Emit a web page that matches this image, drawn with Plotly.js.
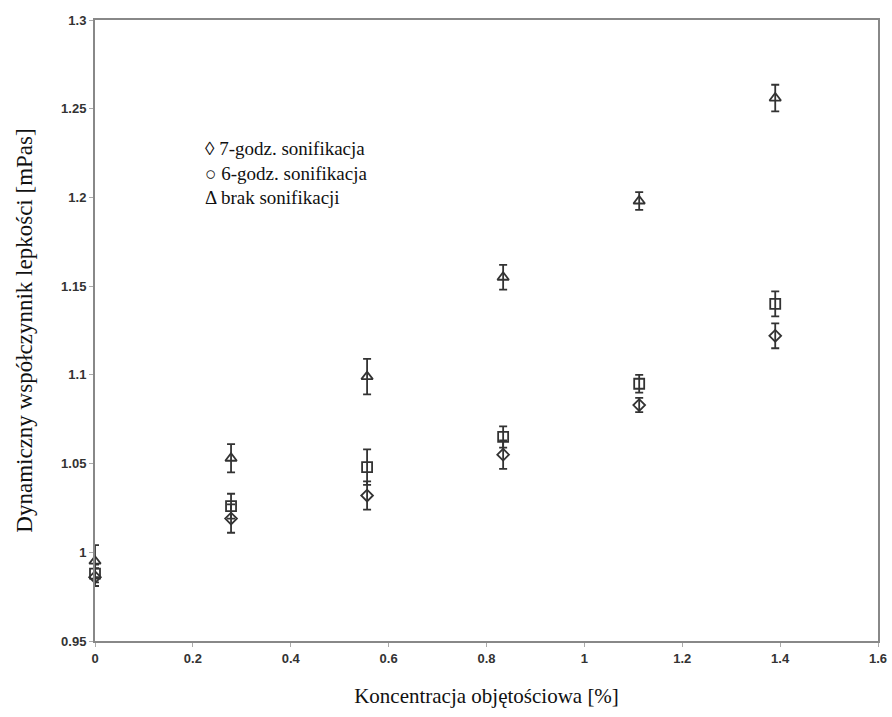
<!DOCTYPE html>
<html><head><meta charset="utf-8">
<script src="https://cdn.plot.ly/plotly-3.0.1.min.js"></script>
<style>html,body{margin:0;padding:0;background:#fff}</style>
</head><body>
<div id="chart" style="width:892px;height:717px"></div>
<script>
const conc = [0, 0.278, 0.556, 0.834, 1.112, 1.39];
const brakVals = [0.995, 1.053, 1.099, 1.155, 1.198, 1.256];
const brakErr = [0.009, 0.008, 0.010, 0.007, 0.005, 0.0075];
const godz6Vals = [0.988, 1.026, 1.048, 1.065, 1.095, 1.140];
const godz6Err = [0.005, 0.007, 0.010, 0.006, 0.005, 0.007];
const godz7Vals = [0.986, 1.019, 1.032, 1.055, 1.083, 1.122];
const godz7Err = [0.005, 0.008, 0.008, 0.008, 0.004, 0.007];
const xTickVals = [0, 0.2, 0.4, 0.6, 0.8, 1, 1.2, 1.4, 1.6];
const xTickText = ['0', '0.2', '0.4', '0.6', '0.8', '1', '1.2', '1.4', '1.6'];
const yTickVals = [0.95, 1, 1.05, 1.1, 1.15, 1.2, 1.25, 1.3];
const yTickText = ['0.95', '1', '1.05', '1.1', '1.15', '1.2', '1.25', '1.3'];
const legendLines = ['◊ 7-godz. sonifikacja', '○ 6-godz. sonifikacja', 'Δ brak sonifikacji'];

const serif = '"Liberation Serif", "Times New Roman", serif';
const sans = '"Liberation Sans Narrow", "Liberation Sans", Arial, sans-serif';

function series(name, y, err, symbol, size) {
  return {
    x: conc, y: y, name: name, type: 'scatter', mode: 'markers', cliponaxis: false,
    marker: {symbol: symbol, size: size, color: '#333', line: {width: 1.8, color: '#333'}},
    error_y: {type: 'data', array: err, visible: true, color: '#333', thickness: 1.8, width: 4},
    showlegend: false
  };
}

const data = [
  series('7-godz. sonifikacja', godz7Vals, godz7Err, 'diamond-open', 9),
  series('6-godz. sonifikacja', godz6Vals, godz6Err, 'square-open', 10),
  series('brak sonifikacji', brakVals, brakErr, 'triangle-up-open', 10)
];

const axisCommon = {
  showline: true, linecolor: '#888', linewidth: 2, mirror: true,
  ticks: 'outside', ticklen: 4, tickcolor: '#aaa', tickwidth: 1,
  showgrid: false, zeroline: false,
  tickfont: {family: sans, size: 13, color: '#333'}
};
const bold = arr => arr.map(t => '<b>' + t + '</b>');

const layout = {
  width: 892, height: 717,
  margin: {l: 95, r: 14, t: 20, b: 76},
  paper_bgcolor: '#fff', plot_bgcolor: '#fff',
  xaxis: Object.assign({}, axisCommon, {
    range: [0, 1.6], tickmode: 'array', tickvals: xTickVals, ticktext: bold(xTickText),
    title: {text: 'Koncentracja objętościowa [%]', standoff: 24,
      font: {family: serif, size: 21, color: '#111'}}
  }),
  yaxis: Object.assign({}, axisCommon, {
    range: [0.95, 1.3], tickmode: 'array', tickvals: yTickVals, ticktext: bold(yTickText),
    title: {text: 'Dynamiczny współczynnik lepkości [mPas]', standoff: 22,
      font: {family: serif, size: 23, color: '#111'}}
  }),
  annotations: [{
    xref: 'paper', yref: 'paper', x: (203 - 95) / 783, y: (641 - 136) / 621,
    xanchor: 'left', yanchor: 'top', align: 'left', showarrow: false,
    text: legendLines.join('<br>'),
    font: {family: serif, size: 19, color: '#111'}
  }]
};

Plotly.newPlot('chart', data, layout, {displayModeBar: false, staticPlot: true});
</script>
</body></html>
